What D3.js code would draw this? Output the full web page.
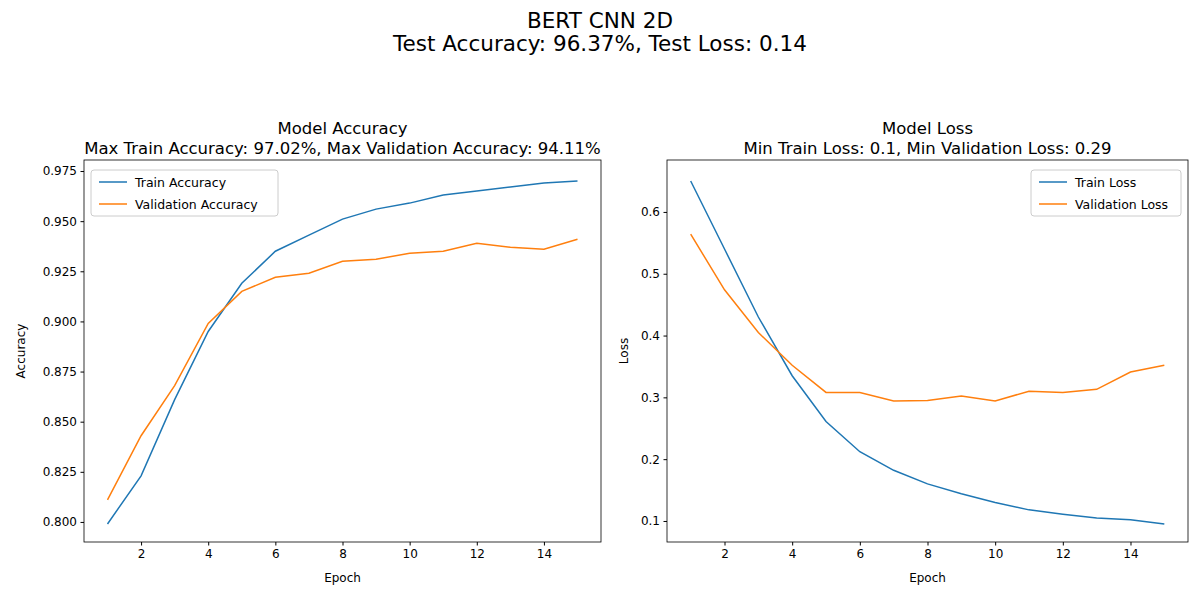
<!DOCTYPE html>
<html><head><meta charset="utf-8">
<script src="https://cdn.jsdelivr.net/npm/d3@7"></script>
<style>body{margin:0;background:#fff}text{font-family:"DejaVu Sans",sans-serif}</style>
</head><body><svg id="c" width="1200" height="600"></svg>
<script>
const epochs=[1,2,3,4,5,6,7,8,9,10,11,12,13,14,15];
const trainAcc=[0.799,0.823,0.861,0.895,0.919,0.935,0.943,0.951,0.956,0.959,0.963,0.965,0.967,0.969,0.970];
const valAcc=[0.811,0.843,0.868,0.899,0.915,0.922,0.924,0.930,0.931,0.934,0.935,0.939,0.937,0.936,0.941];
const trainLoss=[0.650,0.540,0.430,0.335,0.261,0.212,0.182,0.160,0.144,0.130,0.118,0.111,0.105,0.102,0.095];
const valLoss=[0.564,0.474,0.405,0.352,0.308,0.308,0.294,0.295,0.302,0.294,0.310,0.308,0.313,0.341,0.352];
const accTicks=[0.800,0.825,0.850,0.875,0.900,0.925,0.950,0.975];
const lossTicks=[0.1,0.2,0.3,0.4,0.5,0.6];
const xTicks=[2,4,6,8,10,12,14];
const C1="#1f77b4",C2="#ff7f0e";
const svg=d3.select("#c");
svg.append("text").attr("x",600).attr("y",28).attr("text-anchor","middle").attr("font-size",21.5).text("BERT CNN 2D");
svg.append("text").attr("x",600).attr("y",51).attr("text-anchor","middle").attr("font-size",21.5).text("Test Accuracy: 96.37%, Test Loss: 0.14");
function panel(x0,x1,ydom,yticks,fmt,s1,s2,names,title1,title2,ylabel,ylx,legendRight){
  const top=160,bot=542;
  const x=d3.scaleLinear().domain([0.3,15.7]).range([x0,x1]);
  const y=d3.scaleLinear().domain(ydom).range([bot,top]);
  const g=svg.append("g");
  g.append("g").attr("transform",`translate(0,${bot})`).call(d3.axisBottom(x).tickValues(xTicks).tickSize(3.5).tickPadding(3.5))
   .call(a=>{a.select(".domain").remove();a.selectAll("text").attr("font-size",12).attr("font-family","DejaVu Sans");});
  g.append("g").attr("transform",`translate(${x0},0)`).call(d3.axisLeft(y).tickValues(yticks).tickFormat(d3.format(fmt)).tickSize(3.5).tickPadding(3.5))
   .call(a=>{a.select(".domain").remove();a.selectAll("text").attr("font-size",12).attr("font-family","DejaVu Sans");});
  const line=d3.line().x((d,i)=>x(epochs[i])).y(d=>y(d));
  [[s1,C1],[s2,C2]].forEach(([s,c])=>g.append("path").attr("d",line(s)).attr("fill","none").attr("stroke",c).attr("stroke-width",1.5));
  g.append("rect").attr("x",x0).attr("y",top).attr("width",x1-x0).attr("height",bot-top).attr("fill","none").attr("stroke","#000").attr("stroke-width",0.8);
  const cx=(x0+x1)/2;
  g.append("text").attr("x",cx).attr("y",134).attr("text-anchor","middle").attr("font-size",16.5).text(title1);
  g.append("text").attr("x",cx).attr("y",154).attr("text-anchor","middle").attr("font-size",16.5).text(title2);
  g.append("text").attr("x",cx).attr("y",582).attr("text-anchor","middle").attr("font-size",12).text("Epoch");
  g.append("text").attr("transform",`translate(${ylx},${(top+bot)/2}) rotate(-90)`).attr("text-anchor","middle").attr("font-size",12).text(ylabel);
  const lw=legendRight?150:187, lx=legendRight?x1-7-lw:x0+7, ly=170;
  g.append("rect").attr("x",lx).attr("y",ly).attr("width",lw).attr("height",46).attr("rx",3).attr("fill","#fff").attr("stroke","#ccc");
  names.forEach((n,i)=>{
    const yy=ly+12+i*22;
    g.append("line").attr("x1",lx+8).attr("x2",lx+36).attr("y1",yy).attr("y2",yy).attr("stroke",i?C2:C1).attr("stroke-width",1.5);
    g.append("text").attr("x",lx+44).attr("y",yy+4.5).attr("font-size",12.5).text(n);
  });
}
panel(84,601,[0.790,0.9805],accTicks,".3f",trainAcc,valAcc,["Train Accuracy","Validation Accuracy"],"Model Accuracy","Max Train Accuracy: 97.02%, Max Validation Accuracy: 94.11%","Accuracy",25,false);
panel(667,1188,[0.066,0.684],lossTicks,".1f",trainLoss,valLoss,["Train Loss","Validation Loss"],"Model Loss","Min Train Loss: 0.1, Min Validation Loss: 0.29","Loss",628,true);
</script></body></html>
